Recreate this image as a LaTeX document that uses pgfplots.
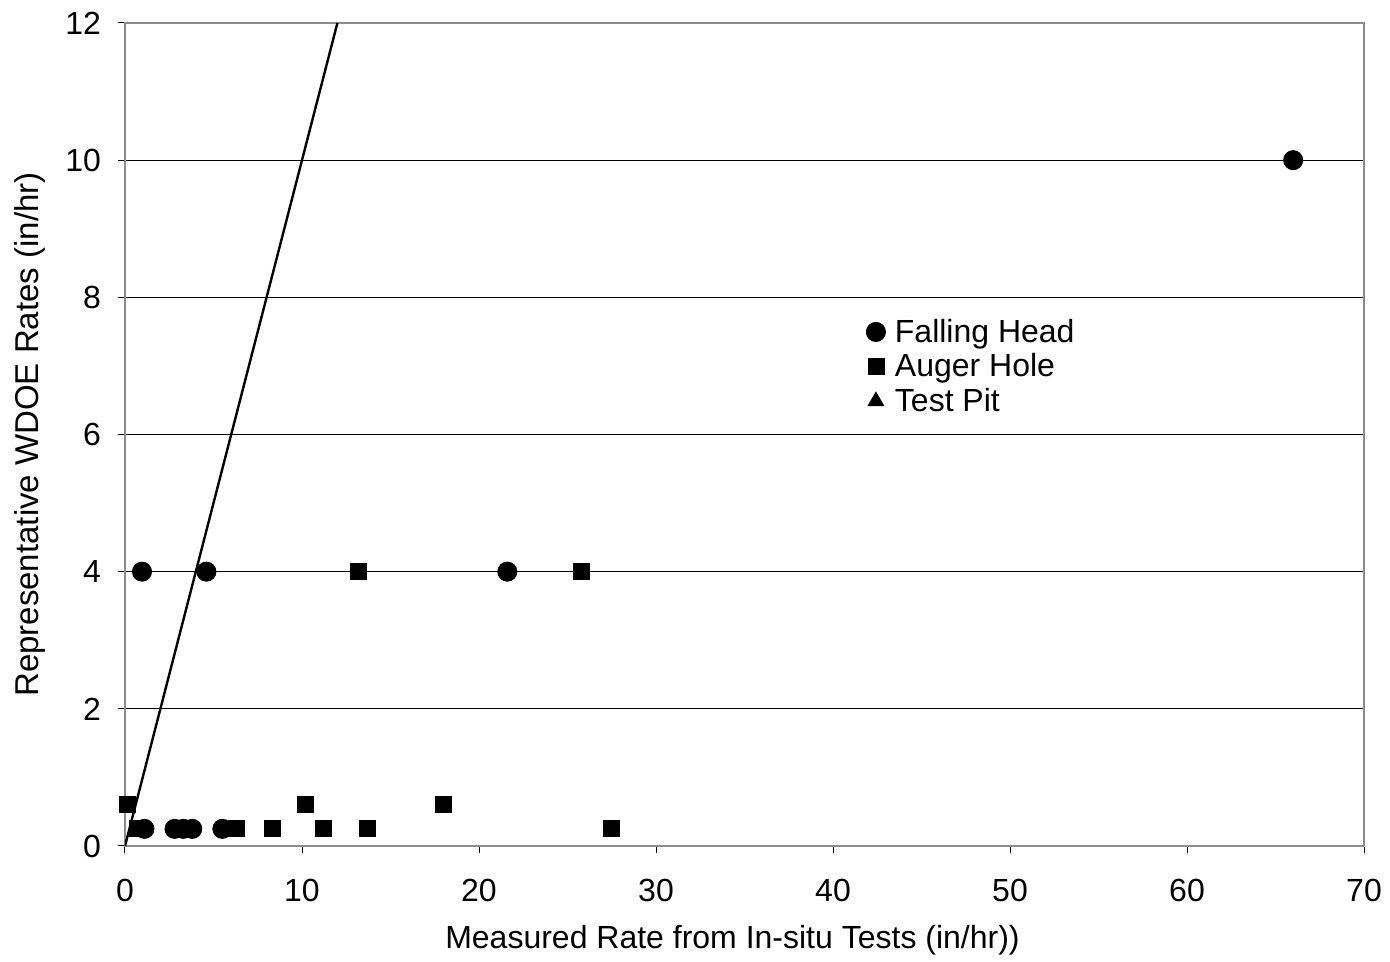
\documentclass[border=0pt]{standalone}
\usepackage{pgfplots}
\pgfplotsset{compat=1.18}
\usepackage{fontspec}
\setmainfont{Liberation Sans}
\begin{document}
\begin{tikzpicture}
\useasboundingbox (-62.5pt,-58pt) rectangle (632.5pt,423pt);
\begin{axis}[
  at={(0,0)}, anchor=south west,
  scale only axis, width=619.5pt, height=411.5pt,
  xmin=0, xmax=70, ymin=0, ymax=12,
  xtick={0,10,...,70}, ytick={0,2,...,12},
  ymajorgrids, grid style={black, line width=0.5pt},
  axis line style={draw=gray!90, line width=0.8pt},
  tick style={black, line width=0.5pt},
  tick align=outside, tick pos=left,
  major tick length=3.5pt,
  ticklabel style={font=\fontsize{16}{18}\selectfont},
  xticklabel style={yshift=-9.5pt},
  yticklabel style={xshift=-5pt},
  /pgf/number format/assume math mode=true,
  xlabel={Measured Rate from In-situ Tests (in/hr))},
  ylabel={Representative WDOE Rates (in/hr)},
  xlabel style={font=\fontsize{16}{18}\selectfont, at={(axis description cs:0.4903,-0.114)}, anchor=center},
  ylabel style={font=\fontsize{16.5}{18}\selectfont, at={(axis description cs:-0.0767,0.5)}, anchor=center},
  legend style={at={(axis cs:41.86,7.75)}, anchor=north west, draw=none, fill=none,
    font=\fontsize{16}{18}\selectfont, row sep=0.2pt, inner sep=0pt,
    column sep=0pt, cells={anchor=west}},
  legend cell align=left,
  legend image code/.code={\draw[#1] plot coordinates {(0pt,0pt)}; \path[draw=none,fill=none] (-4.5pt,0pt) -- (7.5pt,0pt);},
  clip=true,
]
\addplot[only marks, mark=*, mark size=4.8pt, black] coordinates {
  (0.96,4) (4.6,4) (21.6,4) (66,10)
  (1.1,0.25) (2.8,0.25) (3.3,0.25) (3.8,0.25) (5.5,0.25)
};
\addlegendentry{Falling Head}
\addplot[only marks, mark=square*, mark size=4pt, black] coordinates {
  (0.15,0.6) (0.7,0.25) (6.3,0.25) (8.3,0.25) (10.2,0.6) (11.2,0.25)
  (13.7,0.25) (18,0.6) (13.2,4) (25.8,4) (27.5,0.25)
};
\addlegendentry{Auger Hole}
\addlegendimage{only marks, mark=triangle*, mark size=4.5pt, black}
\addlegendentry{Test Pit}
\addplot[black, line width=1.2pt, forget plot] coordinates {(0,0) (12,12)};
\end{axis}
\end{tikzpicture}
\end{document}
